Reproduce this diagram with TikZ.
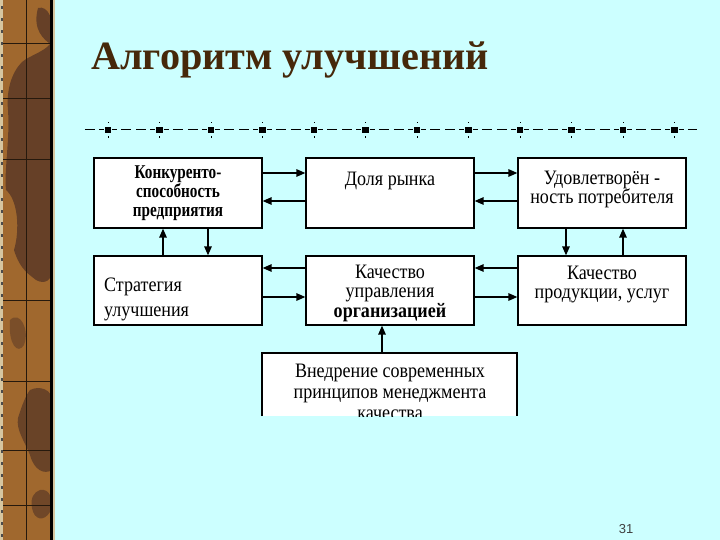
\documentclass[tikz,border=0pt]{standalone}
\usepackage{fontspec}
\setmainfont{Liberation Serif}
\newfontfamily\cond[FakeStretch=0.88]{Liberation Serif}
\newfontfamily\condb[FakeStretch=0.78]{Liberation Serif}
\newfontfamily\numfont{Liberation Sans}
\usetikzlibrary{arrows.meta,calc}
\definecolor{bgcyan}{RGB}{204,255,255}
\definecolor{titlebrown}{RGB}{70,40,10}
\definecolor{barbrown}{RGB}{160,104,46}
\definecolor{bardark}{RGB}{92,58,38}
\definecolor{barbeige}{RGB}{214,198,160}
\tikzset{
  box/.style={draw=black, fill=white, line width=1.3pt, inner sep=0pt},
  arr/.style={line width=1.4pt, -{Triangle[length=9pt,width=7.5pt]}},
  txt/.style={inner sep=0pt, anchor=base, font=\cond\fontsize{20.5}{20.5}\selectfont},
  txtb/.style={inner sep=0pt, anchor=base, font=\condb\bfseries\fontsize{19.5}{19.5}\selectfont},
  sq/.style={fill=black, minimum size=6.5pt, inner sep=0pt},
  grid/.style={draw=black!80!brown, line width=0.9pt}
}
\begin{document}
\begin{tikzpicture}[x=1pt,y=-1pt]
\useasboundingbox (0,0) rectangle (720,540);
\fill[bgcyan] (0,0) rectangle (720,540);
% left decorative bar
\begin{scope}
\clip (3,0) rectangle (51,540);
\fill[barbrown] (0,0) rectangle (52,540);
\fill[bardark,opacity=0.85] (38,8) .. controls (48,5) and (55,20) .. (52,40)
  .. controls (50,50) and (30,55) .. (22,62)
  .. controls (12,72) and (6,90) .. (8,110)
  .. controls (10,140) and (4,170) .. (6,190)
  .. controls (18,200) and (20,230) .. (14,250)
  .. controls (20,270) and (30,275) .. (36,280)
  .. controls (45,285) and (52,280) .. (52,270)
  -- (52,45) .. controls (44,40) and (32,30) .. (38,8) -- cycle;
\fill[bardark,opacity=0.8] (30,390) .. controls (40,385) and (52,390) .. (52,400)
  -- (52,470) .. controls (44,475) and (34,470) .. (30,455)
  .. controls (24,440) and (16,430) .. (18,418)
  .. controls (22,405) and (26,395) .. (30,390) -- cycle;
\fill[bardark,opacity=0.7] (40,490) .. controls (50,488) and (54,500) .. (50,512)
  .. controls (44,522) and (34,520) .. (32,508)
  .. controls (30,498) and (34,492) .. (40,490) -- cycle;
\fill[bardark,opacity=0.55] (10,320) .. controls (20,310) and (30,330) .. (24,345)
  .. controls (18,355) and (8,345) .. (10,320) -- cycle;
\end{scope}
\foreach \yy in {43,98,159,300,381,450,505}{
  \draw[grid] (3,\yy) -- (51,\yy);
}
\draw[grid] (26,0) -- (26,540);
\fill[barbeige] (0,0) rectangle (3,540);
\foreach \yy in {6,18,...,534}{ \fill[black!70] (0.5,\yy) rectangle (2.5,\yy+3); }
\fill[black] (50,0) rectangle (52.8,540);
\fill[barbeige] (52.8,0) rectangle (55,540);
% title
\node[inner sep=0pt, anchor=base west, text=titlebrown,
  font=\bfseries\fontsize{40.2}{40.2}\selectfont] (title) at (91,70) {Алгоритм улучшений};
% separator line
\coordinate (sepL) at (83,130);
\coordinate (sepR) at (697,130);
\draw[line width=1pt, dash pattern=on 5pt off 4pt on 10pt off 5pt on 10pt off 4pt on 5pt off 8.5pt, dash phase=22.25pt] (sepL) -- (sepR);
\foreach \k in {0,...,11}{
  \node[sq] (s\k) at (108+51.5*\k,130) {};
  \fill[black] (108+51.5*\k-0.5,122) rectangle (108+51.5*\k+0.5,123.5);
  \fill[black] (108+51.5*\k-0.5,136.5) rectangle (108+51.5*\k+0.5,138);
}
% boxes
\node[box, minimum width=168pt, minimum height=70pt] (b1) at (178,193) {};
\node[box, minimum width=168pt, minimum height=70pt] (b2) at (390,193) {};
\node[box, minimum width=168pt, minimum height=70pt] (b3) at (602,193) {};
\node[box, minimum width=168pt, minimum height=69pt] (b4) at (178,290.5) {};
\node[box, minimum width=168pt, minimum height=69pt] (b5) at (390,290.5) {};
\node[box, minimum width=168pt, minimum height=69pt] (b6) at (602,290.5) {};
% bottom box (cut off)
\coordinate (b7nw) at (262,353);
\coordinate (b7ne) at (517,353);
\fill[white] (262,353) rectangle (517,416);
\draw[line width=1.3pt] (262,416) -- (b7nw) -- (b7ne) -- (517,416);
\coordinate (b7n) at (382,353);
% texts
\node[txtb] (t1a) at (178,179) {Конкуренто-};
\node[txtb] (t1b) at (178,197.5) {способность};
\node[txtb] (t1c) at (178,216.5) {предприятия};
\node[txt] (t2) at (390,186) {Доля рынка};
\node[txt] (t3a) at (602,185) {Удовлетворён -};
\node[txt] (t3b) at (602,203.5) {ность потребителя};
\node[txt, anchor=base west] (t4a) at (104,291) {Стратегия};
\node[txt, anchor=base west] (t4b) at (104,316) {улучшения};
\node[txt] (t5a) at (390,278) {Качество};
\node[txt] (t5b) at (390,297.5) {управления};
\node[txt, font=\cond\bfseries\fontsize{20.5}{20.5}\selectfont] (t5c) at (390,317) {организацией};
\node[txt] (t6a) at (602,279) {Качество};
\node[txt] (t6b) at (602,298.5) {продукции, услуг};
\begin{scope}
\clip (262,353) rectangle (517,416);
\node[txt] (t7a) at (390,377) {Внедрение современных};
\node[txt] (t7b) at (390,398) {принципов менеджмента};
\node[txt] (t7c) at (390,419) {качества};
\end{scope}
% arrows
\draw[arr] (b1.east |- 0,173) -- (b2.west |- 0,173);
\draw[arr] (b2.west |- 0,201) -- (b1.east |- 0,201);
\draw[arr] (b2.east |- 0,173) -- (b3.west |- 0,173);
\draw[arr] (b3.west |- 0,201) -- (b2.east |- 0,201);
\draw[arr] (b4.north -| 163,0) -- (b1.south -| 163,0);
\draw[arr] (b1.south -| 208,0) -- (b4.north -| 208,0);
\draw[arr] (b5.west |- 0,268) -- (b4.east |- 0,268);
\draw[arr] (b4.east |- 0,297) -- (b5.west |- 0,297);
\draw[arr] (b6.west |- 0,268) -- (b5.east |- 0,268);
\draw[arr] (b5.east |- 0,297) -- (b6.west |- 0,297);
\draw[arr] (b3.south -| 566,0) -- (b6.north -| 566,0);
\draw[arr] (b6.north -| 623,0) -- (b3.south -| 623,0);
\draw[arr] (b7n) -- (b5.south -| b7n);
% page number
\node[inner sep=0pt, anchor=base, text=black!75, font=\numfont\fontsize{13}{13}\selectfont] (pnum) at (626,533) {31};
\end{tikzpicture}
\end{document}
